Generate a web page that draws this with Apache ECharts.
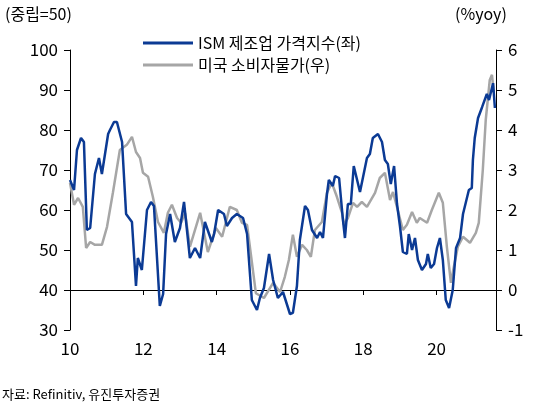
<!DOCTYPE html>
<html><head><meta charset="utf-8">
<script src="https://cdn.jsdelivr.net/npm/echarts@6/dist/echarts.min.js"></script>
<style>html,body{margin:0;padding:0;background:#fff}#c{width:542px;height:419px}</style>
</head><body><div id="c"></div>
<script>
const xTickLabels = ['10','12','14','16','18','20'];
// years since 2010
const ismT = [0.00,0.11,0.19,0.30,0.38,0.46,0.55,0.68,0.79,0.87,1.04,1.09,1.20,1.28,1.42,1.53,1.69,1.80,1.85,1.96,2.10,2.21,2.29,2.45,2.54,2.62,2.73,2.86,3.00,3.11,3.27,3.41,3.55,3.68,3.87,3.93,4.04,4.20,4.28,4.42,4.55,4.72,4.83,4.96,5.10,5.18,5.29,5.43,5.54,5.67,5.81,6.00,6.08,6.19,6.27,6.41,6.49,6.60,6.74,6.82,6.90,7.01,7.06,7.17,7.23,7.34,7.44,7.50,7.58,7.66,7.74,7.91,8.10,8.18,8.26,8.40,8.51,8.59,8.67,8.75,8.84,8.92,9.00,9.08,9.19,9.24,9.33,9.41,9.49,9.60,9.71,9.76,9.84,9.93,10.01,10.09,10.17,10.25,10.34,10.44,10.53,10.64,10.72,10.80,10.88,10.96,10.99,11.04,11.13,11.24,11.29,11.37,11.43,11.54,11.59];
const ismV = [67.5,65,75,78,77,55,55.5,69,73,69,79,80,82,82,77,59,57,41,48,45,60,62,61,36,39,54,59,52,55.5,62,48,50.5,48,57,52,54,60,59,56,58,59,58,54,37.5,35,38,40.5,49,42.5,38,39.5,34,34.3,41,52.5,61,60,55,53,54.5,53,64,67.5,66,68.5,68,58,53,61.5,61.5,71,64.5,73,74,78,79,77,72.5,71.5,66.5,71,61.5,56,49.5,49,54,50,53,47.5,45,46.5,49,45.5,46.5,50.5,53,47.5,37.5,35.5,40,50.5,53,59,62,65,65.5,72.5,78,83,85.7,85.5,89,87.5,91.7,85.5];
const cpiT = [0.00,0.11,0.22,0.35,0.44,0.55,0.68,0.87,1.01,1.17,1.36,1.55,1.69,1.80,1.91,1.99,2.13,2.26,2.40,2.56,2.67,2.78,2.92,3.03,3.14,3.27,3.55,3.76,3.98,4.15,4.36,4.55,4.69,4.83,5.07,5.29,5.54,5.73,5.86,5.97,6.08,6.19,6.33,6.46,6.57,6.68,6.87,7.01,7.14,7.28,7.42,7.47,7.58,7.72,7.83,7.96,8.10,8.32,8.45,8.59,8.73,8.81,8.94,9.08,9.19,9.33,9.46,9.54,9.74,9.87,10.06,10.17,10.28,10.39,10.47,10.58,10.72,10.91,11.07,11.15,11.26,11.34,11.45,11.51,11.56];
const cpiV = [2.68,2.13,2.3,2.08,1.05,1.2,1.13,1.13,1.58,2.43,3.5,3.63,3.83,3.45,3.3,2.93,2.83,2.33,1.7,1.43,1.93,2.13,1.8,1.68,1.93,1.08,1.93,0.95,1.55,1.33,2.08,2.0,1.68,1.63,-0.08,-0.2,0.18,-0.05,0.33,0.75,1.38,0.83,1.13,1.0,0.83,1.5,1.7,2.43,2.68,2.33,1.93,1.63,1.8,2.18,2.08,2.2,2.08,2.43,2.8,2.93,2.25,2.45,2.0,1.5,1.63,1.95,1.68,1.8,1.68,2.0,2.43,2.18,1.08,0.18,0.58,1.08,1.33,1.18,1.43,1.68,3.0,4.25,5.25,5.38,4.93];
const base = 2010;
const font = 'Noto Sans CJK KR';
const ax = {lineStyle:{color:'#000',width:1}};
const chart = echarts.init(document.getElementById('c'));
chart.setOption({
  animation:false,
  textStyle:{fontFamily:font},
  grid:{left:70,right:46,top:50,bottom:89},
  legend:{orient:'vertical',left:138,top:30,itemGap:6,itemWidth:50,itemHeight:3,
    textStyle:{fontSize:16,color:'#000',fontFamily:font},
    data:[{name:'ISM 제조업 가격지수(좌)',icon:'rect'},{name:'미국 소비자물가(우)',icon:'rect'}]},
  graphic:[
    {type:'text',left:5,top:6,style:{text:'(중립=50)',fontSize:16,fill:'#000',fontFamily:font}},
    {type:'text',left:455,top:6,style:{text:'(%yoy)',fontSize:16,fill:'#000',fontFamily:font}},
    {type:'text',left:2,top:388,style:{text:'자료: Refinitiv, 유진투자증권',fontSize:13,fill:'#000',fontFamily:font}}
  ],
  xAxis:{type:'value',min:2010,max:2021.62,interval:2,axisLine:ax,
    axisTick:{show:true,length:5,lineStyle:{color:'#000'}},splitLine:{show:false},
    axisLabel:{fontSize:17,color:'#000',margin:10,showMaxLabel:false,formatter:v=>xTickLabels[Math.round((v-2010)/2)]||''}},
  yAxis:[
    {type:'value',min:30,max:100,interval:10,axisLine:{show:true,...ax},axisTick:{show:true,length:6,lineStyle:{color:'#000'}},
     splitLine:{show:false},axisLabel:{fontSize:17,color:'#000',margin:12}},
    {type:'value',min:-1,max:6,interval:1,axisLine:{show:true,...ax},axisTick:{show:true,length:6,lineStyle:{color:'#000'}},
     splitLine:{show:false},axisLabel:{fontSize:17,color:'#000',margin:12}}
  ],
  series:[
    {name:'미국 소비자물가(우)',type:'line',yAxisIndex:1,showSymbol:false,color:'#a6a6a6',
     lineStyle:{width:2.5,color:'#a6a6a6'},data:cpiT.map((t,i)=>[base+t,cpiV[i]])},
    {name:'ISM 제조업 가격지수(좌)',type:'line',yAxisIndex:0,showSymbol:false,color:'#0b3a94',
     lineStyle:{width:2.5,color:'#0b3a94'},data:ismT.map((t,i)=>[base+t,ismV[i]])}
  ]
});
</script></body></html>
